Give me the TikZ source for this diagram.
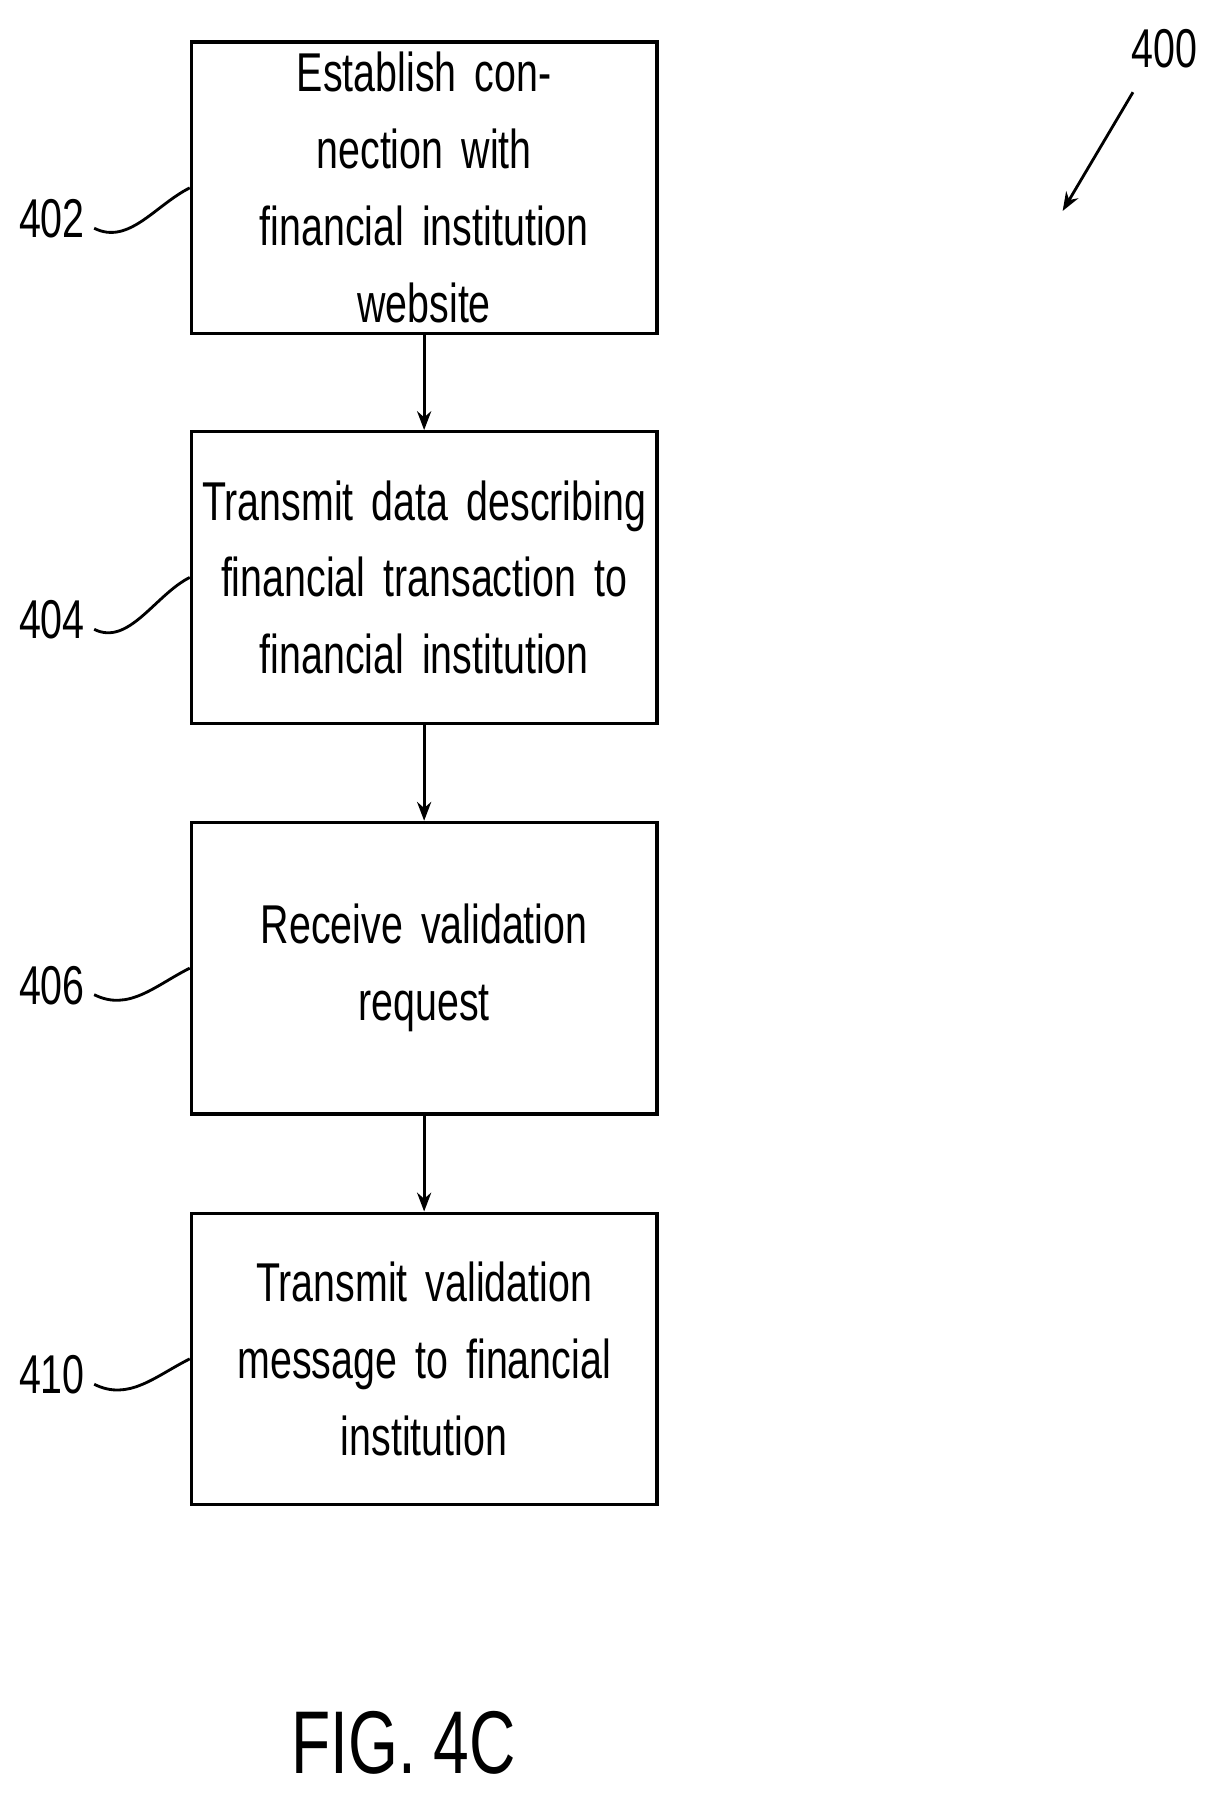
\documentclass[tikz,border=0pt]{standalone}
\usepackage{fontspec}
\setmainfont{Liberation Sans}[FakeStretch=0.72]
\usetikzlibrary{arrows.meta,positioning}
\begin{document}
\begin{tikzpicture}[x=0.02cm, y=-0.02cm, >=Stealth,
    stepbox/.style={draw, line width=1.6pt, minimum width=8.08cm, minimum height=5.06cm,
      text width=7.8cm, inner sep=0pt, align=center, font=\fontsize{27}{38}\selectfont},
    ref/.style={font=\fontsize{27}{32}\selectfont},
    lead/.style={line width=1.4pt}]
  \useasboundingbox (0,0) rectangle (1050,1560);
  % Steps
  \node[stepbox] (s402) at (368,163) {Establish connection with\\financial institution\\website};
  \node[stepbox] (s404) at (368,501) {Transmit data describing\\financial transaction to\\financial institution};
  \node[stepbox] (s406) at (368,840) {Receive validation\\request};
  \node[stepbox] (s410) at (368,1179) {Transmit validation\\message to financial\\institution};
  \draw[->, line width=1.4pt] (s402) -- (s404);
  \draw[->, line width=1.4pt] (s404) -- (s406);
  \draw[->, line width=1.4pt] (s406) -- (s410);
  % Reference labels
  \foreach \n/\y in {402/190, 404/538, 406/855, 410/1193} {
    \node[ref] (l\n) at (45,\y) {\n};
    \draw[lead] (l\n.east) ++(2,8) .. controls +(30,15) and +(-30,15) .. (s\n.west);
  }
  \node[ref] (l400) at (1010,42) {400};
  \coordinate (t400) at (922,183);
  \draw[->, line width=1.4pt] (983,80) -- (t400);
  % Caption
  \node[font=\fontsize{44}{50}\selectfont] (fig) at (350,1512) {FIG. 4C};
\end{tikzpicture}
\end{document}
